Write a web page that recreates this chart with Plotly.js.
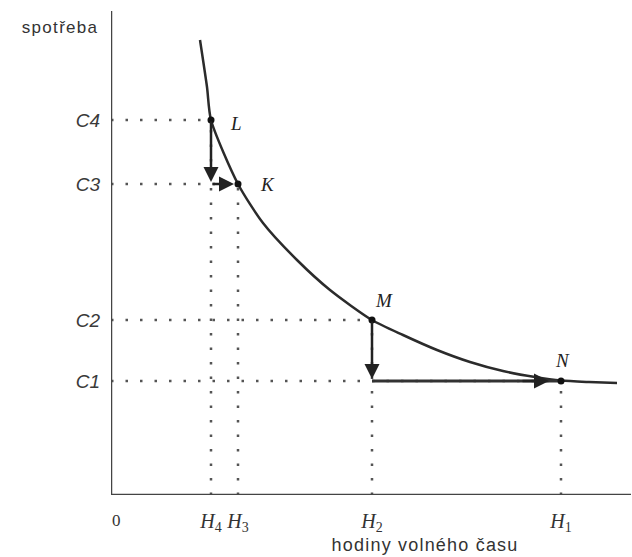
<!DOCTYPE html>
<html><head><meta charset="utf-8">
<script src="https://cdn.plot.ly/plotly-3.0.1.min.js"></script>
<style>
html,body{margin:0;padding:0;background:#fff}
g.annotation[data-index="9"] text{letter-spacing:1.3px}
g.annotation[data-index="10"] text{letter-spacing:1.2px}
</style>
</head><body><div id="chart" style="width:632px;height:557px"></div>
<script>
// indifference curve (hours of leisure vs consumption)
const curveX = [89, 96, 100, 127, 152, 186, 219, 261, 292, 326, 359, 392, 424, 450, 478, 506];
const curveY = [455, 408, 375, 311, 272, 235, 205, 175, 160, 145, 133, 124, 118, 114.5, 113, 112];
// named points
const pointNames = ['L', 'K', 'M', 'N'];
const pointX = [100, 127, 261, 450];
const pointY = [375, 311, 175, 114];
// tick levels
const hVals = [100, 127, 261, 450];
const hLabels = ['<i>H</i><sub>4</sub>', '<i>H</i><sub>3</sub>', '<i>H</i><sub>2</sub>', '<i>H</i><sub>1</sub>'];
const cVals = [375, 311, 175, 114];
const cLabels = ['C4', 'C3', 'C2', 'C1'];
const xTitle = 'hodiny volného času';
const yTitle = 'spotřeba';

const dotLine = {color: '#555', width: 2.5, dash: '2.5px,12px'};
const traces = [];
for (let i = 0; i < pointX.length; i++) {
  traces.push({x: [0, pointX[i]], y: [pointY[i], pointY[i]], mode: 'lines', line: dotLine, hoverinfo: 'skip'});
  traces.push({x: [pointX[i], pointX[i]], y: [0, pointY[i]], mode: 'lines', line: dotLine, hoverinfo: 'skip'});
}
traces.push({x: curveX, y: curveY, mode: 'lines', line: {color: '#2b2b2b', width: 2.5, shape: 'spline', smoothing: 0.7}, hoverinfo: 'skip'});
// horizontal segment from (H2,C1) to N
traces.push({x: [pointX[2], pointX[3]], y: [pointY[3], pointY[3]], mode: 'lines', line: {color: '#333', width: 3}, hoverinfo: 'skip'});
traces.push({x: pointX, y: pointY, mode: 'markers', marker: {color: '#111', size: 7}, hoverinfo: 'skip'});

const ann = [];
const arrow = (x, y, ax, ay) => ({x, y, ax, ay, xref: 'x', yref: 'y', axref: 'x', ayref: 'y', text: '', showarrow: true, arrowhead: 2, arrowsize: 1.2, arrowwidth: 2.5, arrowcolor: '#222', standoff: 0});
ann.push(arrow(pointX[0], pointY[1] + 2, pointX[0], pointY[0]));       // L down to C3
ann.push(arrow(pointX[1] - 4, pointY[1], pointX[0], pointY[1]));       // to K
ann.push(arrow(pointX[2], pointY[3] + 2, pointX[2], pointY[2]));       // M down to C1
ann.push(arrow(pointX[3] - 12, pointY[3], pointX[3] - 40, pointY[3])); // to N
const lblOff = [[25, -3], [29, 0], [12, 20], [1, 21]];
for (let i = 0; i < pointNames.length; i++) {
  ann.push({x: pointX[i] + lblOff[i][0], y: pointY[i] + lblOff[i][1], xref: 'x', yref: 'y', text: '<i>' + pointNames[i] + '</i>', showarrow: false,
    font: {family: 'Liberation Serif', size: 19, color: '#222'}});
}
// index 8: "0", 9: y title, 10: x title
const mid = {xanchor: 'center', yanchor: 'middle', showarrow: false, xref: 'paper', yref: 'paper'};
ann.push(Object.assign({x: 0.0115, y: -0.0517, text: '0', font: {family: 'Liberation Serif', size: 17, color: '#333'}}, mid));
ann.push(Object.assign({x: -0.098, y: 0.965, text: yTitle, font: {family: 'Liberation Sans', size: 17, color: '#333'}}, mid));
ann.push(Object.assign({x: 0.604, y: -0.104, text: xTitle, font: {family: 'Liberation Sans', size: 18, color: '#333'}}, mid));

const layout = {
  width: 632, height: 557,
  margin: {l: 111, r: 1, t: 11, b: 62},
  showlegend: false,
  paper_bgcolor: '#fff', plot_bgcolor: '#fff',
  xaxis: {range: [0, 520], showgrid: false, zeroline: false, showline: false,
    tickvals: hVals, ticktext: hLabels, ticks: '', ticklabelstandoff: 12,
    tickfont: {family: 'Liberation Serif', size: 20, color: '#333'}},
  yaxis: {range: [0, 484], showgrid: false, zeroline: false, showline: false,
    tickvals: cVals, ticktext: cLabels.map(s => '<i>' + s + '</i>'), ticks: '', ticklabelstandoff: 10,
    tickfont: {family: 'Liberation Sans', size: 19, color: '#3a3a3a'}},
  shapes: [
    {type: 'line', xref: 'x', yref: 'y', x0: 0, x1: 0, y0: 0, y1: 484, line: {color: '#444', width: 2.5}},
    {type: 'line', xref: 'x', yref: 'y', x0: 0, x1: 520, y0: 0, y1: 0, line: {color: '#444', width: 2.5}}
  ],
  annotations: ann
};
Plotly.newPlot('chart', traces, layout, {displayModeBar: false, staticPlot: true});
</script></body></html>
